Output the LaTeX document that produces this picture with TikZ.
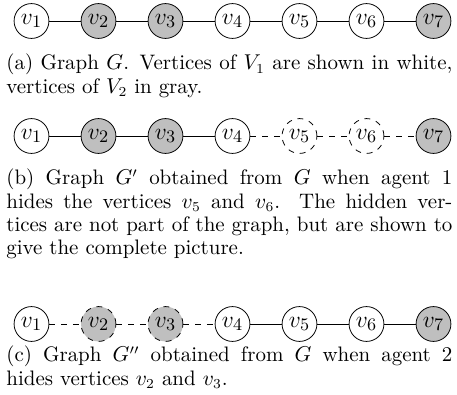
\documentclass[tikz,border=0pt]{standalone}
\usepackage{amsmath, amsfonts}
\usetikzlibrary{calc, positioning}

\begin{document}
\begin{tikzpicture}[x=0.5107pt, y=-0.5107pt]
    \def\dx{67}
    \def\xo{31.5}

    \tikzstyle{vertex} = [draw, circle, inner sep=0pt, minimum size=17.8pt, font=\fontsize{12.4pt}{14pt}\selectfont]
    \tikzstyle{vone} = [vertex, fill=white]
    \tikzstyle{vtwo} = [vertex, fill=gray!50]
    \tikzstyle{hone} = [vone, dashed]
    \tikzstyle{htwo} = [vtwo, dashed]
    \tikzstyle{caption} = [anchor=base west, inner sep=0pt, text width=227.8pt, align=justify, font=\fontsize{10.7pt}{11.9pt}\selectfont]

    \useasboundingbox (0,0) rectangle (457,395);

    % (a) the whole graph
    \foreach \i/\s in {1/vone,2/vtwo,3/vtwo,4/vone,5/vone,6/vone,7/vtwo}
        \node (a-\i) [\s] at ({\xo+(\i-1)*\dx}, 21) {$v_{\i}$};
    \foreach \i [count=\j from 2] in {1,...,6}
        \draw (a-\i) -- (a-\j);

    % (b) agent 1 hides v5, v6
    \foreach \i/\s in {1/vone,2/vtwo,3/vtwo,4/vone,5/hone,6/hone,7/vtwo}
        \node (b-\i) [\s] at ({\xo+(\i-1)*\dx}, 136) {$v_{\i}$};
    \foreach \i/\j/\e in {1/2/solid,2/3/solid,3/4/solid,4/5/dashed,5/6/dashed,6/7/dashed}
        \draw [\e] (b-\i) -- (b-\j);

    % (c) agent 2 hides v2, v3
    \foreach \i/\s in {1/vone,2/htwo,3/htwo,4/vone,5/vone,6/vone,7/vtwo}
        \node (c-\i) [\s] at ({\xo+(\i-1)*\dx}, 324) {$v_{\i}$};
    \foreach \i/\j/\e in {1/2/dashed,2/3/dashed,3/4/dashed,4/5/solid,5/6/solid,6/7/solid}
        \draw [\e] (c-\i) -- (c-\j);

    % captions
    \node (cap-a) [caption] at (6, 70) {(a) Graph $G$. Vertices of $V_1$ are shown in white,\linebreak vertices of $V_2$ in gray.};
    \node (cap-b) [caption] at (6, 185) {(b) Graph $G'$ obtained from $G$ when agent 1\linebreak hides the vertices $v_5$ and $v_6$. The hidden ver-\linebreak tices are not part of the graph, but are shown to\linebreak give the complete picture.};
    \node (cap-c) [caption] at (6, 362) {(c) Graph $G''$ obtained from $G$ when agent 2\linebreak hides vertices $v_2$ and $v_3$.};
\end{tikzpicture}
\end{document}
